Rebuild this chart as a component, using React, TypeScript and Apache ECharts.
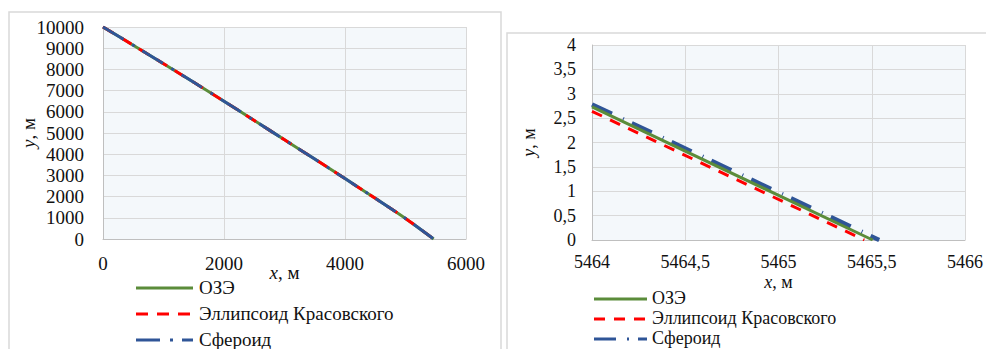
import React, { useEffect, useRef } from 'react';
import * as echarts from 'echarts';

// ---- data ----
const seriesNames = ['ОЗЭ', 'Эллипсоид Красовского', 'Сфероид'];

// left chart (full trajectory), x in m, y in m
const leftX = [0, 500, 1000, 1500, 2000, 2500, 3000, 3500, 4000, 4500, 5000];
const leftY = [10000, 9140, 8270, 7390, 6500, 5590, 4680, 3770, 2850, 1920, 970];
const leftEndX = [5465.5, 5465.46, 5465.54]; // y = 0 reached

// right chart (zoomed end of trajectory)
const rightOzeX = [5464, 5465.505];
const rightOzeY = [2.73, 0];
const rightKrasX = [5464, 5465.46];
const rightKrasY = [2.64, 0];
const rightSphX = [5464, 5465.54];
const rightSphY = [2.78, 0];

const leftXTicks = { min: 0, max: 6000, interval: 2000 };
const leftYTicks = { min: 0, max: 10000, interval: 1000 };
const rightXTicks = { min: 5464, max: 5466, interval: 0.5 };
const rightYTicks = { min: 0, max: 4, interval: 0.5 };

// ---- styles ----
const FONT = 'Liberation Serif';
const GREEN = '#5B8C3A';
const RED = '#FF0000';
const BLUE = '#2F5597';
const TXT = '#111';
const COLORS = [GREEN, RED, BLUE];

const zip = (xs: number[], ys: number[]) => xs.map((x, i) => [x, ys[i]]);
const comma = (v: number) => String(v).replace('.', ',');

function legendGraphics(
  x0: number, x1: number, textX: number, rows: number[], fs: number, dashes: (number[] | null)[],
) {
  const out: any[] = [];
  seriesNames.forEach((name, i) => {
    out.push({
      type: 'line',
      silent: true,
      shape: { x1: x0, y1: rows[i], x2: x1, y2: rows[i] },
      style: { stroke: COLORS[i], lineWidth: 3, lineDash: dashes[i] || undefined },
    });
    out.push({
      type: 'text',
      silent: true,
      x: textX,
      y: rows[i] - fs * 0.55,
      style: { text: name, fontFamily: FONT, fontSize: fs, fill: TXT },
    });
  });
  return out;
}

function buildOption() {
  const leftData = leftEndX.map((ex) => [...zip(leftX, leftY), [ex, 0]]);

  const axisCommon = (fs: number) => ({
    axisTick: { show: false },
    axisLine: { show: true, lineStyle: { color: '#bfbfbf', width: 1 } },
    splitLine: { show: true, lineStyle: { color: '#d9d9d9', width: 1 } },
    axisLabel: { fontFamily: FONT, fontSize: fs, color: TXT },
    nameMoveOverlap: false,
    nameTextStyle: {
      fontFamily: FONT,
      fontSize: fs,
      color: TXT,
      rich: { i: { fontFamily: FONT, fontSize: fs, fontStyle: 'italic', color: TXT } },
    },
  });

  const lc = axisCommon(19);
  const rc = axisCommon(18);

  return {
    animation: false,
    textStyle: { fontFamily: FONT },
    graphic: [
      {
        type: 'rect',
        shape: { x: 9, y: 12, width: 492, height: 400 },
        style: { fill: 'none', stroke: '#d9d9d9', lineWidth: 1.5 },
        silent: true,
      },
      {
        type: 'rect',
        shape: { x: 507, y: 33, width: 500, height: 400 },
        style: { fill: 'none', stroke: '#d9d9d9', lineWidth: 1.5 },
        silent: true,
      },
      ...legendGraphics(136, 193, 199, [288, 314, 340], 19, [null, [12, 9], [24, 10, 3, 9]]),
      ...legendGraphics(594, 647, 652, [299, 319, 339], 18, [null, [11, 9], [22, 11, 2, 9]]),
    ],
    grid: [
      { left: 103, top: 27, width: 363, height: 212, show: true, backgroundColor: '#F4F8FB', borderWidth: 0 },
      { left: 592, top: 45, width: 376, height: 195, show: true, backgroundColor: '#F4F8FB', borderWidth: 0 },
    ],
    xAxis: [
      {
        type: 'value', gridIndex: 0, ...leftXTicks, ...lc,
        axisLabel: { ...lc.axisLabel, margin: 15, formatter: (v: number) => String(v) },
        name: '{i|x}, м', nameLocation: 'middle', nameGap: 24,
      },
      {
        type: 'value', gridIndex: 1, ...rightXTicks, ...rc,
        axisLabel: { ...rc.axisLabel, margin: 13, formatter: comma },
        name: '{i|x}, м', nameLocation: 'middle', nameGap: 33,
      },
    ],
    yAxis: [
      {
        type: 'value', gridIndex: 0, ...leftYTicks, ...lc,
        axisLabel: { ...lc.axisLabel, margin: 19, formatter: (v: number) => String(v) },
        name: '{i|y}, м', nameLocation: 'middle', nameGap: 65, nameRotate: 90,
      },
      {
        type: 'value', gridIndex: 1, ...rightYTicks, ...rc,
        axisLabel: { ...rc.axisLabel, margin: 16, formatter: comma },
        name: '{i|y}, м', nameLocation: 'middle', nameGap: 54, nameRotate: 90,
      },
    ],
    series: [
      // left chart
      {
        name: seriesNames[0], type: 'line', xAxisIndex: 0, yAxisIndex: 0,
        data: leftData[0], showSymbol: false, symbol: 'none', smooth: 0.3,
        lineStyle: { color: GREEN, width: 3, type: 'solid' }, itemStyle: { color: GREEN },
      },
      {
        name: seriesNames[1], type: 'line', xAxisIndex: 0, yAxisIndex: 0,
        data: leftData[1], showSymbol: false, symbol: 'none', smooth: 0.3,
        lineStyle: { color: RED, width: 3, type: [12, 9] }, itemStyle: { color: RED },
      },
      {
        name: seriesNames[2], type: 'line', xAxisIndex: 0, yAxisIndex: 0,
        data: leftData[2], showSymbol: false, symbol: 'none', smooth: 0.3,
        lineStyle: { color: BLUE, width: 3, type: [24, 10, 3, 9] }, itemStyle: { color: BLUE },
      },
      // right chart
      {
        name: seriesNames[2], type: 'line', xAxisIndex: 1, yAxisIndex: 1,
        data: zip(rightSphX, rightSphY), showSymbol: false, symbol: 'none',
        lineStyle: { color: BLUE, width: 4.5, type: [22, 12, 1, 9] }, itemStyle: { color: BLUE },
      },
      {
        name: seriesNames[1], type: 'line', xAxisIndex: 1, yAxisIndex: 1,
        data: zip(rightKrasX, rightKrasY), showSymbol: false, symbol: 'none',
        lineStyle: { color: RED, width: 3, type: [11, 9] }, itemStyle: { color: RED },
      },
      {
        name: seriesNames[0], type: 'line', xAxisIndex: 1, yAxisIndex: 1,
        data: zip(rightOzeX, rightOzeY), showSymbol: false, symbol: 'none',
        lineStyle: { color: GREEN, width: 3, type: 'solid' }, itemStyle: { color: GREEN },
      },
    ],
  };
}

export default function App() {
  const ref = useRef<HTMLDivElement>(null);
  useEffect(() => {
    if (!ref.current) return;
    const chart = echarts.init(ref.current, null, { renderer: 'svg' });
    chart.setOption(buildOption() as any);
    return () => chart.dispose();
  }, []);
  return (
    <div
      ref={ref}
      style={{ position: 'fixed', left: 0, top: 0, width: 986, height: 349, background: '#fff', fontFamily: FONT }}
    />
  );
}
